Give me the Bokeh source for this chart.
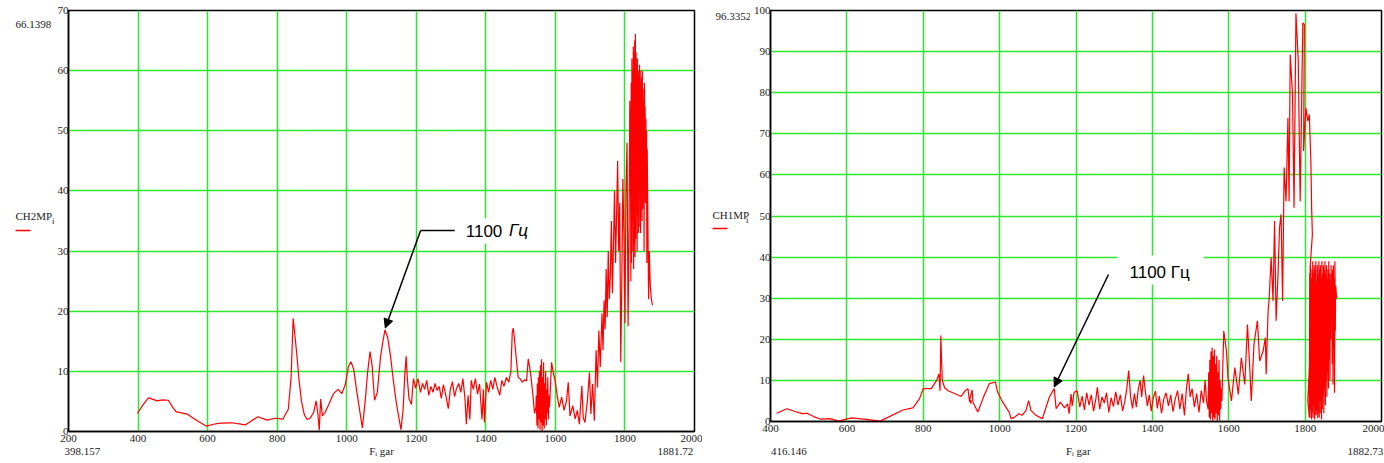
from bokeh.plotting import figure
from bokeh.layouts import row
from bokeh.models import Label, Arrow, NormalHead, BoxAnnotation, Range1d, LinearAxis, FixedTicker
from bokeh.embed import file_html
from bokeh.resources import INLINE

# ---------------- data ----------------
x_ticks_left = [200, 400, 600, 800, 1000, 1200, 1400, 1600, 1800, 2000]
y_ticks_left = [0, 10, 20, 30, 40, 50, 60, 70]
x_ticks_right = [400, 600, 800, 1000, 1200, 1400, 1600, 1800, 2000]
y_ticks_right = [0, 10, 20, 30, 40, 50, 60, 70, 80, 90, 100]

left_name = "CH2MP"
right_name = "CH1MP"
x_name = "F\u1d62 gar"
left_limits = ["66.1398", "398.157", "1881.72"]
right_limits = ["96.3352", "416.146", "1882.73"]
note_num = "1100"
note_unit = "Гц"

ch2_f = [398.157, 415, 430, 445, 455, 470, 487, 500, 509, 541, 570, 596, 620, 638, 670, 708, 745, 771, 794, 816,
         832, 840, 846, 851, 857, 863, 870, 878, 886, 896, 905, 912, 917, 921, 925, 930, 938, 950, 962, 975,
         986, 996, 1005, 1012, 1020, 1028, 1037, 1045, 1053, 1060, 1067, 1073, 1080, 1088, 1097, 1104, 1110, 1118, 1126, 1134,
         1142, 1149, 1156, 1162, 1167, 1171, 1174, 1179, 1186, 1192, 1198, 1205, 1212, 1218, 1224, 1230, 1236, 1242, 1248, 1254,
         1260, 1266, 1272, 1278, 1285, 1292, 1298, 1304, 1310, 1316, 1322, 1328, 1334, 1340, 1344, 1349, 1354, 1358, 1364, 1370,
         1376, 1382, 1389, 1393, 1396, 1402, 1408, 1414, 1420, 1426, 1432, 1440, 1446, 1452, 1459, 1466, 1472, 1476, 1479, 1483,
         1488, 1493, 1498, 1505, 1511, 1517, 1522, 1526, 1530, 1536, 1540, 1544,
         1545, 1547, 1548, 1550, 1551, 1553, 1554, 1556, 1557, 1559, 1560, 1562, 1563, 1565, 1566, 1568, 1569, 1571, 1572, 1574,
         1575, 1577, 1578, 1580, 1581, 1583,
         1589, 1594, 1599, 1606, 1611, 1618, 1625, 1632, 1637, 1642, 1650, 1657, 1663, 1669, 1676, 1680, 1685, 1692, 1698, 1702,
         1707, 1712, 1717, 1721, 1725, 1729, 1734, 1737, 1740, 1743, 1746, 1749, 1752, 1755, 1758, 1761, 1764, 1767, 1770, 1773,
         1776, 1779, 1782, 1785, 1788, 1791, 1794, 1797, 1800, 1803, 1806, 1809, 1812, 1814,
         1816, 1817, 1818, 1819, 1820, 1821, 1822, 1823, 1824, 1825, 1826, 1827, 1828, 1829, 1830, 1831, 1832, 1833, 1834, 1835,
         1836, 1837, 1838, 1839, 1840, 1841, 1842, 1843, 1844, 1845, 1846, 1847, 1848, 1849, 1850, 1851, 1852, 1853, 1854, 1855,
         1856, 1857, 1858, 1859, 1860, 1861, 1862, 1863, 1864, 1866, 1868, 1870, 1873, 1876, 1879, 1881.72]
ch2_v = [3.0, 4.5, 5.6, 5.3, 5.1, 5.25, 5.2, 4.0, 3.3, 2.9, 1.8, 0.9, 1.25, 1.4, 1.45, 1.1, 2.45, 1.9, 2.2, 2.05,
         3.7, 9.0, 18.8, 16.0, 12.5, 8.5, 5.0, 2.8, 2.0, 2.3, 3.2, 5.1, 3.0, 0.2, 5.4, 2.6, 3.2, 4.7, 6.3, 7.0,
         6.3, 7.8, 10.8, 11.6, 10.4, 7.0, 3.6, 0.6, 5.0, 9.8, 13.3, 11.0, 5.2, 6.5, 12.3, 15.0, 16.9, 15.6, 12.5, 8.5,
         5.0, 2.6, 0.3, 3.5, 9.5, 12.5, 9.0, 5.5, 4.5, 8.8, 7.2, 8.8, 6.5, 8.0, 7.0, 8.5, 6.0, 7.5, 6.5, 8.0,
         6.8, 7.5, 5.5, 7.8, 6.0, 3.8, 7.0, 8.3, 5.8, 7.2, 8.0, 6.5, 8.8, 5.5, 1.2, 6.0, 2.0, 8.5, 7.0, 8.8,
         6.2, 7.9, 2.0, 7.0, 1.5, 8.2, 6.5, 8.5, 7.0, 9.0, 7.5, 6.0, 8.5, 7.5, 9.0, 8.2, 10.0, 16.5, 17.2, 15.0,
         11.8, 9.0, 8.8, 8.2, 8.6, 8.4, 12.1, 10.7, 9.0, 5.7, 3.0, 4.0,
         6, 1, 8, 0.5, 9, 2, 10, 0.3, 11, 1.5, 12, 0, 9, 1, 11.5, 0.5, 8, 2, 10, 1,
         7, 3, 9, 2, 6, 4,
         11.5, 9.8, 8.5, 5.7, 4.0, 5.7, 3.5, 5.1, 8.2, 2.6, 4.3, 2.1, 3.5, 1.2, 7.6, 2.3, 1.5, 5.1, 9.8, 2.9,
         7.9, 1.8, 13.5, 7.3, 16.8, 10.7, 19.6, 13.5, 21.8, 17, 27, 19, 30, 22, 26, 35, 23, 31, 40, 28,
         36, 45, 30, 38, 11.5, 25, 42, 33, 18, 40, 48, 17.5, 35, 55,
         48, 25, 58, 28, 62, 30, 60, 35, 64, 27, 63, 31, 65, 29, 66.1, 32, 63, 38, 61, 30,
         62, 36, 60, 33, 59, 40, 61, 34, 60, 33, 58, 42, 59, 35, 60, 37, 57, 40, 55, 30,
         58, 44, 54, 38, 52, 45, 50, 28, 47, 35, 22, 30, 24, 22, 21]

ch1_f = [416.146, 443, 462, 483, 496, 513, 530, 556, 578, 595, 613, 650, 687, 747, 773, 790, 800, 821, 835, 841,
         844, 846, 848, 850, 856, 865, 882, 899, 910, 917, 921, 925, 925, 921, 928, 930, 943, 958, 973, 989,
         995, 1008, 1025, 1030, 1038, 1051, 1059, 1069, 1076, 1082, 1095, 1112, 1130, 1143, 1148, 1159, 1170, 1178, 1182, 1187,
         1190, 1195, 1203, 1210, 1216, 1222, 1228, 1234, 1240, 1246, 1252, 1256, 1262, 1268, 1274, 1280, 1286, 1292, 1298, 1304,
         1310, 1316, 1322, 1328, 1333, 1338, 1343, 1348, 1353, 1358, 1363, 1368, 1372, 1377, 1382, 1387, 1392, 1397, 1402, 1408,
         1413, 1418, 1424, 1430, 1436, 1442, 1448, 1454, 1460, 1466, 1472, 1478, 1484, 1489, 1494, 1499, 1504, 1510, 1516, 1522,
         1528, 1534, 1538, 1542,
         1546, 1547.5, 1549, 1550.5, 1552, 1553.5, 1555, 1556.5, 1558, 1559.5, 1561, 1562.5, 1564, 1565.5, 1567, 1568.5, 1570, 1571.5, 1573, 1574.5,
         1576, 1577.5, 1579, 1580.5, 1582,
         1587, 1594, 1598, 1607, 1616, 1625, 1633, 1642, 1649, 1655, 1659, 1666, 1675, 1681, 1690, 1696, 1698, 1703, 1706, 1711,
         1716, 1720, 1724, 1729, 1733, 1737, 1741, 1745, 1750, 1755, 1758, 1761, 1767, 1771, 1776, 1782, 1787, 1791, 1794, 1798,
         1796, 1802, 1807, 1811, 1815, 1817, 1819, 1813, 1815, 1807, 1811,
         1812, 1813, 1814, 1815, 1816, 1817, 1818, 1819, 1820, 1821, 1822, 1823, 1824, 1825, 1826, 1827, 1828, 1829, 1830, 1831,
         1832, 1833, 1834, 1835, 1836, 1837, 1838, 1839, 1840, 1841, 1842, 1843, 1844, 1845, 1846, 1847, 1848, 1849, 1850, 1851,
         1852, 1853, 1854, 1855, 1856, 1857, 1858, 1859, 1860, 1861, 1862, 1863, 1864, 1865, 1866, 1867, 1868, 1869, 1870, 1871,
         1872, 1873, 1874, 1875, 1876, 1877, 1878, 1879, 1880, 1882.73]
ch1_v = [2.0, 3.1, 2.5, 1.9, 2.0, 1.2, 0.6, 0.7, 0.1, 0.5, 0.9, 0.5, 0.1, 2.8, 3.3, 5.5, 8.0, 8.0, 10.0, 11.6,
         7.5, 20.9, 14.8, 10.0, 8.2, 7.5, 6.8, 6.1, 7.5, 8.0, 5.0, 4.4, 5.2, 5.0, 7.7, 4.7, 2.3, 6.0, 9.2, 9.6,
         7.1, 4.7, 2.3, 0.7, 1.0, 1.9, 1.5, 2.7, 5.1, 2.7, 1.5, 0.7, 5.9, 8.0, 3.1, 4.7, 3.3, 4.3, 1.9, 6.7,
         3.8, 7.1, 7.5, 3.5, 6.2, 2.8, 7.0, 4.0, 6.5, 2.5, 5.5, 8.3, 3.0, 6.0, 4.5, 7.0, 2.2, 5.8, 3.6, 7.2,
         4.0, 6.5, 2.6, 5.0, 8.0, 12.4, 6.0, 3.2, 6.8, 3.5, 7.8, 10.0, 6.0, 11.2, 7.0, 3.8, 6.5, 2.5, 5.6, 7.4,
         3.2, 6.2, 2.0, 5.5, 7.0, 3.8, 6.5, 2.4, 5.5, 7.5, 3.0, 6.8, 1.5, 7.8, 11.6, 6.0, 8.0, 3.5, 6.8, 2.2,
         7.5, 4.5, 10.0, 5.0,
         3, 12, 1, 15, 0.5, 17, 2, 18, 0, 16, 1, 17.5, 0.5, 14, 2, 16, 0, 12, 1.5, 15,
         0.3, 10, 3, 8, 5,
         22.0, 17.2, 10.7, 5.0, 13.1, 6.6, 15.5, 9.0, 23.6, 13.1, 5.0, 18.8, 24.5, 14.7, 17.2, 20.4, 11.5, 26.9, 30.1, 39.9,
         29.3, 48.8, 24.5, 35.8, 47.2, 50.4, 29.3, 61.8, 53.6, 73.9, 53.6, 89.3, 79.6, 52.0, 99.3, 87.7, 53.6, 78.2, 97.0, 96.6,
         65.8, 76.3, 73.1, 74.7, 63.4, 52.0, 45.5, 37.4, 21.2, 5.0, 0.9,
         36, 1, 38, 3, 35, 0.5, 37, 2, 39, 1, 36, 4, 38, 0.5, 37, 2, 39, 1.5, 34, 3,
         38, 0.8, 36, 2, 39, 1, 37, 5, 38, 2, 35, 0.5, 39, 3, 36, 6, 38, 2, 37, 8,
         39, 4, 36, 10, 38, 6, 35, 12, 37, 8, 39, 15, 36, 10, 34, 20, 38, 25, 36, 14,
         37, 9, 38, 18, 35, 7, 39, 22, 33, 30]

# ---------------- style ----------------
GRID = "#2fe62f"
SERIF = "Liberation Serif"
SANS = "Liberation Sans"
RED = "#ff0000"
TXT = "#222222"
H = 463


def lab(p, x, y, text, size="11px", font=SERIF, style="normal", align="left", base_="middle", color=TXT):
    p.add_layout(Label(x=x, y=y, text=text, text_font=font, text_font_size=size,
                       text_font_style=style, text_align=align, text_baseline=base_,
                       text_color=color))


def side_panel(width, bottom, top_text, top_x, top_y, name, name_x, sub_x, name_y, line_x0, line_x1, line_y):
    """Narrow strip left of a chart holding the Mathcad-style range value and legend.
    Its frame spans the same pixel rows as the chart frame next to it; data units = pixels."""
    f = figure(width=width, height=H, x_range=Range1d(0, width), y_range=Range1d(bottom, 10),
               output_backend="svg", toolbar_location=None,
               min_border_left=0, min_border_right=0, min_border_top=10, min_border_bottom=H - bottom,
               x_axis_location=None, y_axis_location=None, frame_align=False)
    f.outline_line_color = None
    f.background_fill_color = "white"
    f.border_fill_color = "white"
    for g in f.grid:
        g.visible = False
    lab(f, top_x, top_y, top_text)
    lab(f, name_x, name_y, name)
    lab(f, sub_x, name_y + 5, "i", size="9px")
    f.add_layout(Arrow(end=None, x_start=line_x0, y_start=line_y, x_end=line_x1, y_end=line_y,
                       line_color=RED, line_width=1.3))
    return f


def chart(width, xr, yr, xticks, yticks, mbl, mbr, mbb, extra_ticks, extra_labels, extra_standoff):
    p = figure(width=width, height=H, x_range=Range1d(*xr), y_range=Range1d(*yr),
               output_backend="svg", toolbar_location=None, frame_align=False,
               min_border_left=mbl, min_border_right=mbr, min_border_top=10, min_border_bottom=mbb)
    p.background_fill_color = "white"
    p.border_fill_color = "white"
    p.outline_line_color = "black"
    p.outline_line_width = 1.5
    p.xaxis.ticker = xticks
    p.yaxis.ticker = yticks
    extra = LinearAxis(ticker=FixedTicker(ticks=extra_ticks),
                       major_label_overrides=dict(zip(extra_ticks, extra_labels)))
    p.add_layout(extra, "below")
    for ax in (p.xaxis[0], p.yaxis[0], extra):
        ax.axis_line_color = "black"
        ax.axis_line_width = 1.5
        ax.major_tick_line_color = None
        ax.minor_tick_line_color = None
        ax.major_tick_out = 0
        ax.major_tick_in = 0
        ax.major_label_text_font = SERIF
        ax.major_label_text_font_size = "11px"
        ax.major_label_text_color = TXT
    extra.axis_line_color = None
    extra.major_label_standoff = extra_standoff
    p.xaxis[0].major_label_standoff = 3
    p.yaxis[0].major_label_standoff = 0
    p.xgrid.grid_line_color = GRID
    p.ygrid.grid_line_color = GRID
    p.xgrid.grid_line_width = 1.5
    p.ygrid.grid_line_width = 1.5
    return p


# ---------------- left chart (frame x 70..694, y 10..431) ----------------
s1 = side_panel(54, 431, left_limits[0], 15, 24, left_name, 15, 51.5, 215, 15, 30, 230)
p1 = chart(648, (200, 2000), (0, 70), x_ticks_left, y_ticks_left, 14, 8, 32,
           [240, 1100, 1945], [left_limits[1], x_name, left_limits[2]], 0)
LX = lambda px: 200 + (px - 70) * 1800 / 624.0
LY = lambda py: (431 - py) * 70 / 421.0
p1.line(ch2_f, ch2_v, line_color=RED, line_width=1.2)
p1.add_layout(BoxAnnotation(left=LX(460), right=LX(537), top=LY(218), bottom=LY(243),
                            fill_color="white", fill_alpha=1.0, line_color=None))
lab(p1, LX(466), LY(230), note_num, size="17px", font=SANS, color="black")
lab(p1, LX(509), LY(230), note_unit, size="17px", font=SANS, style="italic", color="black")
p1.add_layout(Arrow(end=None, x_start=LX(455), y_start=LY(230), x_end=LX(421), y_end=LY(230),
                    line_color="black", line_width=1.5))
p1.add_layout(Arrow(end=NormalHead(size=9, fill_color="black", line_color="black"),
                    x_start=LX(421), y_start=LY(230), x_end=1111, y_end=17.2,
                    line_color="black", line_width=1.5))

# ---------------- right chart (frame x 770..1381, y 10..421) ----------------
s2 = side_panel(48, 421, right_limits[0], 13, 16, right_name, 10, 43.5, 214, 10, 25, 228)
p2 = chart(634, (400, 2000), (0, 100), x_ticks_right, y_ticks_right, 18, 3, 42,
           [448, 1206, 1958], [right_limits[1], x_name, right_limits[2]], 10)
RX = lambda px: 400 + (px - 770) * 1600 / 611.0
RY = lambda py: (421 - py) * 100 / 411.0
p2.line(ch1_f, ch1_v, line_color=RED, line_width=1.2)
p2.add_layout(BoxAnnotation(left=RX(1117), right=RX(1203), top=RY(255), bottom=RY(284),
                            fill_color="white", fill_alpha=1.0, line_color=None))
lab(p2, RX(1129), RY(272), note_num + " " + note_unit, size="17px", font=SANS, color="black")
p2.add_layout(Arrow(end=NormalHead(size=9, fill_color="black", line_color="black"),
                    x_start=RX(1108), y_start=RY(274), x_end=1143, y_end=8.4,
                    line_color="black", line_width=1.5))

layout = row(s1, p1, s2, p2)
open("out.html", "w").write(file_html(layout, INLINE))
